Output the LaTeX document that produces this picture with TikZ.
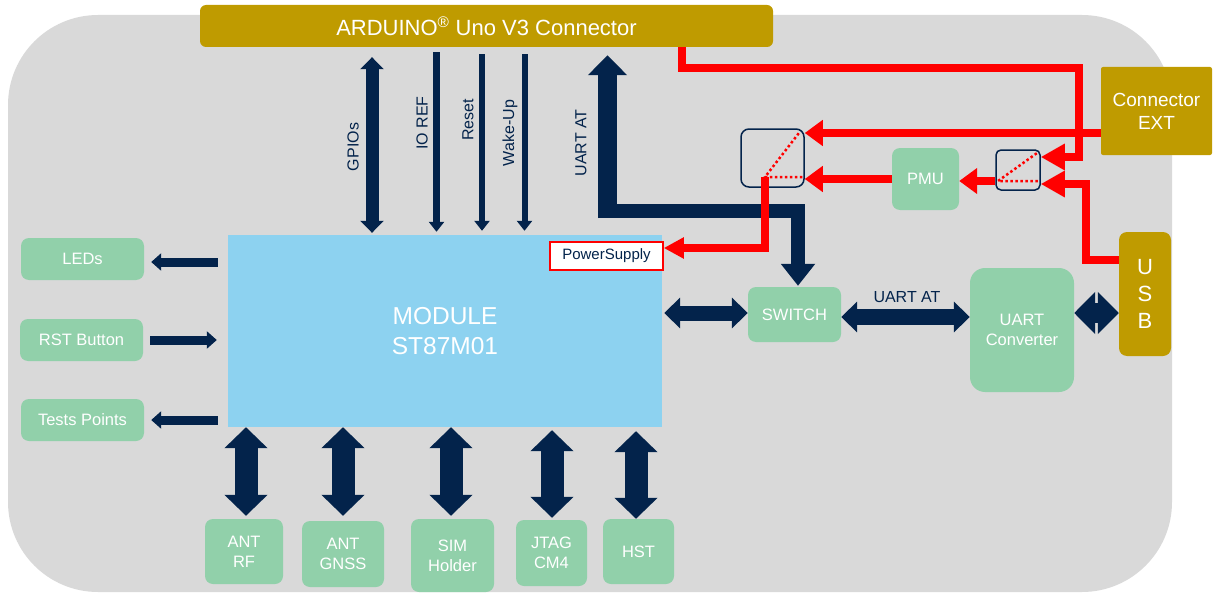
\documentclass[tikz,border=0pt]{standalone}
\usepackage{fontspec}
\setmainfont{Liberation Sans}
\usetikzlibrary{arrows.meta,calc}
\definecolor{bggray}{RGB}{217,217,217}
\definecolor{gold}{RGB}{191,155,0}
\definecolor{mint}{RGB}{145,208,170}
\definecolor{sky}{RGB}{141,210,240}
\definecolor{navy}{RGB}{3,35,75}
\definecolor{pred}{RGB}{255,0,0}
\begin{document}
\begin{tikzpicture}[x=1pt,y=-1pt,
  box/.style={inner sep=0pt, align=center, text=white},
  greenbox/.style={box, fill=mint, rounded corners=8pt, font=\fontsize{16.5}{20}\selectfont},
  goldbox/.style={box, fill=gold, rounded corners=6pt},
  selbox/.style={draw=navy, line width=1.5pt, inner sep=0pt},
  lbl/.style={text=navy, inner sep=0pt, font=\fontsize{16}{19}\selectfont},
  redline/.style={draw=pred, line width=8pt, line join=miter, -{Triangle[length=18pt,width=25pt]}},
  reddot/.style={draw=pred, line width=2.5pt, dash pattern=on 2.5pt off 2.5pt},
  bigv/.style={draw=navy, line width=23pt, {Triangle[length=21pt,width=42pt]}-{Triangle[length=21pt,width=42pt]}},
  thinv/.style={draw=navy, line width=6pt, -{Triangle[length=10pt,width=15pt]}},
  sidearrow/.style={draw=navy, line width=9pt, -{Triangle[length=10pt,width=17pt]}}
]
\useasboundingbox (0,0) rectangle (1219,594);
% background
\fill[bggray, rounded corners=90pt] (8,15) rectangle (1172,592);

% connectors/boxes
\node[goldbox, minimum width=573pt, minimum height=42pt, font=\fontsize{22}{26}\selectfont] (arduino) at (486.5,26) {ARDUINO\textsuperscript{®} Uno V3 Connector};
\node[goldbox, rounded corners=2pt, minimum width=111pt, minimum height=88pt, font=\fontsize{19}{23}\selectfont] (ext) at (1156.5,111) {Connector\\EXT};
\node[goldbox, rounded corners=8pt, minimum width=52pt, minimum height=124pt, font=\fontsize{22}{27}\selectfont] (usb) at (1145,294) {U\\S\\B};

\node[box, fill=sky, minimum width=434pt, minimum height=192pt, font=\fontsize{24.5}{30}\selectfont] (module) at (445,331) {MODULE\\ST87M01};

\node[greenbox, minimum width=123pt, minimum height=42pt] (leds) at (82.5,259) {LEDs};
\node[greenbox, minimum width=123pt, minimum height=42pt] (rst) at (81.5,340) {RST Button};
\node[greenbox, minimum width=123pt, minimum height=42pt] (tests) at (82.5,420) {Tests Points};

\node[greenbox, minimum width=78pt, minimum height=65pt] (antrf) at (244,551.5) {ANT\\RF};
\node[greenbox, minimum width=82pt, minimum height=66pt] (antgnss) at (343,554) {ANT\\GNSS};
\node[greenbox, minimum width=83pt, minimum height=73pt] (sim) at (452.5,555.5) {SIM\\Holder};
\node[greenbox, minimum width=71pt, minimum height=66pt] (jtag) at (551.5,553) {JTAG\\CM4};
\node[greenbox, minimum width=71pt, minimum height=65pt] (hst) at (638.5,551.5) {HST};

\node[greenbox, minimum width=93pt, minimum height=55pt] (switch) at (794.5,314.5) {SWITCH};
\node[greenbox, rounded corners=15pt, minimum width=104pt, minimum height=124pt] (uartconv) at (1022,330) {UART\\Converter};
\node[greenbox, minimum width=67pt, minimum height=62pt] (pmu) at (925.5,179) {PMU};

\node[selbox, rounded corners=8pt, minimum width=63pt, minimum height=58pt] (bigsel) at (772.5,158) {};
\node[selbox, rounded corners=5pt, minimum width=44pt, minimum height=40pt] (smallsel) at (1018,170) {};

% helper coordinates
\coordinate (gpx) at ($(arduino.south)+(-114.5,0)$);
\coordinate (iox) at ($(arduino.south)+(-50,0)$);
\coordinate (rsx) at ($(arduino.south)+(-4.5,0)$);
\coordinate (wkx) at ($(arduino.south)+(38,0)$);
\coordinate (uartbend) at (607.5,211);

% top navy arrows
\draw[draw=navy, line width=13pt, {Triangle[length=12pt,width=23pt]}-{Triangle[length=12pt,width=23pt]}, shorten <=10pt, shorten >=2pt] (gpx) -- (gpx |- module.north);
\draw[thinv, line width=7pt, shorten <=5pt, shorten >=3pt] (iox) -- (iox |- module.north);
\draw[thinv, shorten <=7pt, shorten >=4pt] (rsx) -- (rsx |- module.north);
\draw[thinv, shorten <=7pt, shorten >=4pt] (wkx) -- (wkx |- module.north);

\node[lbl, rotate=90] (lgpio) at (353,147) {GPIOs};
\node[lbl, rotate=90] (lioref) at (422,123) {IO REF};
\node[lbl, rotate=90] (lreset) at (468,120) {Reset};
\node[lbl, rotate=90] (lwake) at (510,133) {Wake-Up};
\node[lbl, rotate=90] (luart) at (581,143) {UART AT};

% UART AT path
\draw[draw=navy, line width=19pt, -{Triangle[length=20pt,width=38pt]}, shorten >=8pt] ($(uartbend)+(0,7)$) -- (uartbend |- arduino.south);
\draw[draw=navy, line width=14pt, line join=miter, -{Triangle[length=22pt,width=33pt]}, shorten >=1pt] ($(uartbend)+(-9.5,0)$) -| ($(switch.north)+(3.5,0)$);

% left arrows
\coordinate (ledy) at ($(module.west)+(0,-69)$);
\coordinate (testy) at ($(module.west)+(0,89)$);
\draw[sidearrow, shorten <=10pt, shorten >=7pt] (ledy) -- (ledy -| leds.east);
\draw[sidearrow, shorten <=7pt, shorten >=11pt] (rst.east) -- (rst.east -| module.west);
\draw[sidearrow, shorten <=10pt, shorten >=7pt] (testy) -- (testy -| tests.east);

% bottom arrows
\coordinate (b1) at ($(antrf.north)+(2,0)$);
\coordinate (b2) at (antgnss.north);
\coordinate (b3) at ($(sim.north)+(-1.5,0)$);
\coordinate (b4) at ($(jtag.north)+(0.5,0)$);
\coordinate (b5) at ($(hst.north)+(-2.5,0)$);
\draw[bigv, shorten >=3pt] (b1 |- module.south) -- (b1);
\draw[bigv, shorten >=5pt] (b2 |- module.south) -- (b2);
\draw[bigv, shorten >=3pt] (b3 |- module.south) -- (b3);
\draw[bigv, shorten <=3pt, shorten >=2pt] (b4 |- module.south) -- (b4);
\draw[bigv, shorten <=4pt, shorten >=0pt] (b5 |- module.south) -- (b5);

% right side navy arrows
\coordinate (msy) at ($(switch.west)+(0,-1.5)$);
\coordinate (suy) at ($(switch.east)+(0,2.5)$);
\coordinate (uuy) at ($(uartconv.east)+(0,-17)$);
\draw[draw=navy, line width=15pt, {Triangle[length=16pt,width=30pt]}-{Triangle[length=16pt,width=30pt]}, shorten <=2pt] (msy -| module.east) -- (msy);
\draw[draw=navy, line width=16pt, {Triangle[length=16pt,width=30pt]}-{Triangle[length=16pt,width=30pt]}] (suy) -- (suy -| uartconv.west);
\node[lbl] (luart2) at (907,297) {UART AT};
\draw[draw=navy, line width=20pt, {Triangle[length=21pt,width=41pt]}-{Triangle[length=21pt,width=41pt]}] (uuy) -- (uuy -| usb.west);

% red power lines
\coordinate (redx) at ($(arduino.south)+(195.5,0)$);
\coordinate (redcorner) at (1079,68);
\coordinate (exty) at ($(ext.west)+(0,22)$);
\coordinate (sselo) at ($(smallsel.west)+(0,11)$);
\coordinate (ssel1) at ($(smallsel.east)+(0,-13)$);
\coordinate (ssel2) at ($(smallsel.east)+(0,14)$);
\coordinate (usbo) at ($(usb.west)+(0,-34)$);
\coordinate (usbbend) at (1086,184);
\coordinate (bigselj) at ($(bigsel.center)+(-7.5,19)$);
\coordinate (smallselj) at ($(smallsel.center)+(-20,11)$);

\draw[redline, -{Triangle[length=24pt,width=25pt]}] (redx) |- (redcorner) |- (ssel1);
\draw[redline] (exty) -- (exty -| bigsel.east);
\draw[redline] (pmu.west) -- (pmu.west -| bigsel.east);
\draw[redline] (sselo) -- (sselo -| pmu.east);
\draw[redline, -{Triangle[length=24pt,width=25pt]}] (usbo) -| (usbbend) -- (ssel2);

% selector internals
\draw[reddot] ($(bigsel.north east)+(-6,5)$) -- (bigselj) -- ($(bigsel.east)+(-1,19)$);
\draw[reddot] ($(smallsel.north east)+(-4,4)$) -- (smallselj) -- ($(smallsel.east)+(-3,11)$);

% power supply box
\node[fill=white, draw=pred, line width=1.5pt, minimum width=113pt, minimum height=28pt, inner sep=0pt, text=navy, font=\fontsize{15}{18}\selectfont] (power) at (606.5,256) {PowerSupply};
\coordinate (powy) at ($(power.east)+(0,-8)$);
\draw[redline, -{Triangle[length=20pt,width=20pt]}] (bigselj) |- (powy);
\end{tikzpicture}
\end{document}
